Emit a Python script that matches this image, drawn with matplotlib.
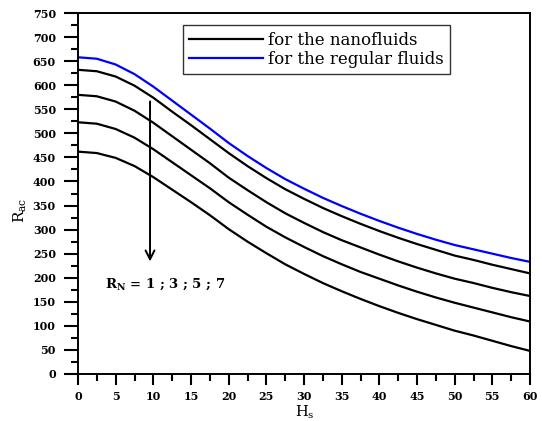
import numpy as np
import matplotlib.pyplot as plt

plt.rcParams['font.family'] = 'DejaVu Serif'
plt.rcParams['mathtext.fontset'] = 'dejavuserif'

# Hs values
hs = [0, 2.5, 5, 7.5, 10, 12.5, 15, 17.5, 20, 22.5, 25, 27.5, 30,
      32.5, 35, 37.5, 40, 42.5, 45, 47.5, 50, 52.5, 55, 57.5, 60]

# regular fluid
regular = [658, 655, 643, 623, 597, 568, 539, 510, 480, 453, 428, 405, 385,
           366, 349, 333, 318, 304, 291, 279, 268, 259, 250, 241, 233]

# nanofluids, RN = 1, 3, 5, 7
rn1 = [632, 629, 618, 599, 574, 545, 517, 488, 459, 432, 407, 384, 364,
       345, 328, 312, 297, 283, 270, 258, 246, 237, 227, 218, 209]
rn3 = [580, 577, 566, 547, 522, 494, 466, 438, 408, 382, 357, 334, 314,
       295, 278, 263, 248, 234, 221, 209, 198, 189, 179, 170, 162]
rn5 = [523, 520, 509, 491, 467, 440, 413, 386, 357, 331, 306, 284, 264,
       245, 228, 212, 198, 184, 171, 159, 148, 138, 128, 118, 109]
rn7 = [462, 459, 449, 432, 409, 383, 357, 330, 301, 275, 251, 228, 208,
       189, 172, 156, 141, 127, 114, 102, 90, 80, 69, 58, 48]

fig = plt.figure(figsize=(5.42, 4.21), dpi=100)
ax = fig.add_axes([78/542, 47/421, 452/542, 361/421])

ax.plot(hs, rn1, color='black', lw=1.6, label='for the nanofluids')
ax.plot(hs, regular, color='#0000ff', lw=1.6, label='for the regular fluids')
for s in [rn3, rn5, rn7]:
    ax.plot(hs, s, color='black', lw=1.6)

ax.annotate('', xy=(9.56, 228), xytext=(9.56, 572),
            arrowprops=dict(arrowstyle='->', lw=1.4, color='black', mutation_scale=16))
ax.text(3.6, 187, r'$\mathbf{R_N}$ = 1 ; 3 ; 5 ; 7', fontsize=9.5,
        fontweight='bold', ha='left', va='center')

ax.set_xlim(0, 60)
ax.set_ylim(0, 750)
ax.set_xticks(np.arange(0, 61, 5))
ax.set_xticks(np.arange(0, 61, 2.5), minor=True)
ax.set_yticks(np.arange(0, 751, 50))
ax.set_yticks(np.arange(0, 751, 25), minor=True)
ax.tick_params(which='major', direction='out', length=10, width=1.5, labelsize=8, pad=6)
ax.tick_params(which='minor', direction='out', length=5, width=1.5)
ax.tick_params(axis='x', which='major', length=8, pad=4)
ax.tick_params(axis='x', which='minor', length=5)
for lab in ax.get_xticklabels() + ax.get_yticklabels():
    lab.set_fontweight('bold')
for sp in ax.spines.values():
    sp.set_linewidth(1.4)

fig.text(20/542, 1 - 210/421, r'$\mathrm{R_{ac}}$', rotation=90,
         ha='center', va='center', fontsize=11)
fig.text(305/542, 1 - 412/421, r'$\mathrm{H_s}$', ha='center', va='center', fontsize=10.5)

leg = ax.legend(loc='upper left', bbox_to_anchor=(0.2316, 0.966), borderaxespad=0,
                fontsize=12, handlelength=4.4, handletextpad=0.3, labelspacing=0.1,
                borderpad=0.4, frameon=True, fancybox=False, shadow=False)
leg.get_frame().set_edgecolor('black')
leg.get_frame().set_linewidth(1.0)

fig.savefig('out.png', dpi=100)
